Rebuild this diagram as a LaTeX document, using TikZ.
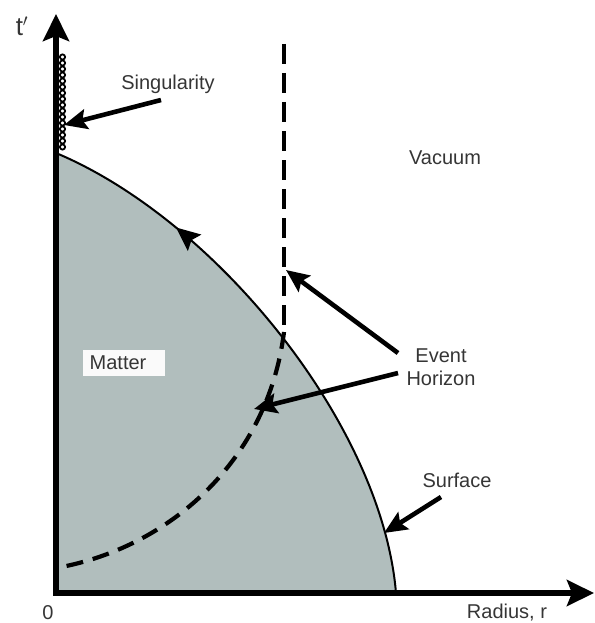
\documentclass[tikz,border=0pt]{standalone}
\usepackage{fontspec}
\setmainfont{Liberation Sans}
\usetikzlibrary{arrows.meta,decorations.markings}
\definecolor{matter}{HTML}{B1BEBD}
\definecolor{ink}{HTML}{1E1E1E}
\tikzset{
  axisline/.style={line width=6pt,-{Stealth[length=27pt,width=26pt,inset=5pt]}},
  pointer/.style={line width=4.6pt,-{Stealth[length=23pt,width=20pt,inset=4pt]}},
  lbl/.style={font=\fontsize{20}{23}\selectfont, text=ink!90, inner sep=0pt},
  ehdash/.style={line width=4.2pt, dash pattern=on 20pt off 9pt}
}
\begin{document}
\begin{tikzpicture}[x=1pt,y=-1pt]
\useasboundingbox (0,0) rectangle (594,623);
% coordinates
\coordinate (O) at (56,593);
\coordinate (Top) at (56,153);
\coordinate (Rend) at (396,593);
\coordinate (Ytip) at (56,14);
\coordinate (Xtip) at (594,593);
\coordinate (EHtop) at (284,44);
\coordinate (EHmeet) at (284,332);
\coordinate (EHbot) at (56,568);
% matter region
\fill[matter] (Top) .. controls (216,220) and (382,425) .. (Rend) -- (O) -- cycle;
\draw[line width=2pt, postaction={decorate, decoration={markings, mark=at position 0.245 with {\arrowreversed{Stealth[length=24pt,width=21pt,inset=4pt]}}}}]
  (Top) .. controls (216,220) and (382,425) .. (Rend);
% event horizon
\draw[ehdash] (EHtop) -- (EHmeet);
\draw[ehdash, dash pattern=on 17pt off 10pt] (EHmeet) .. controls (268,460) and (170,548) .. (EHbot);
% singularity beads
\foreach \yy in {57,63,...,147} \draw[line width=1.8pt] (62.5,\yy) circle (2.6pt);
% axes
\draw[axisline] ([yshift=3pt]O) -- (Ytip);
\draw[axisline] ([xshift=-3pt]O) -- (Xtip);
% labels
\node[lbl] (tlab) at (22,26) {\fontsize{26}{28}\selectfont t$'$};
\node[lbl] (sing) at (168,84) {Singularity};
\node[lbl] (vac) at (445,158) {Vacuum};
\node[lbl, fill=white!93!matter, inner xsep=7pt, inner ysep=6pt, minimum width=80pt, align=left] (mat) at (124,363) {Matter\hspace*{12pt}};
\node[lbl, align=center] (eh) at (441,367) {Event\\Horizon};
\node[lbl] (surf) at (457,480) {Surface};
\node[lbl] (zero) at (48,613) {0};
\node[lbl] (rad) at (507,613) {Radius, r};
% pointers
\coordinate (singtip) at (64,125);
\coordinate (eh1tip) at (286,270);
\coordinate (eh2tip) at (254,409);
\coordinate (surftip) at (384,533);
\coordinate (singtail) at (161,100);
\coordinate (eh1tail) at (398,353);
\coordinate (eh2tail) at (398,373);
\coordinate (surftail) at (441,497);
\draw[pointer] (singtail) -- (singtip);
\draw[pointer] (eh1tail) -- (eh1tip);
\draw[pointer] (eh2tail) -- (eh2tip);
\draw[pointer] (surftail) -- (surftip);
\end{tikzpicture}
\end{document}
